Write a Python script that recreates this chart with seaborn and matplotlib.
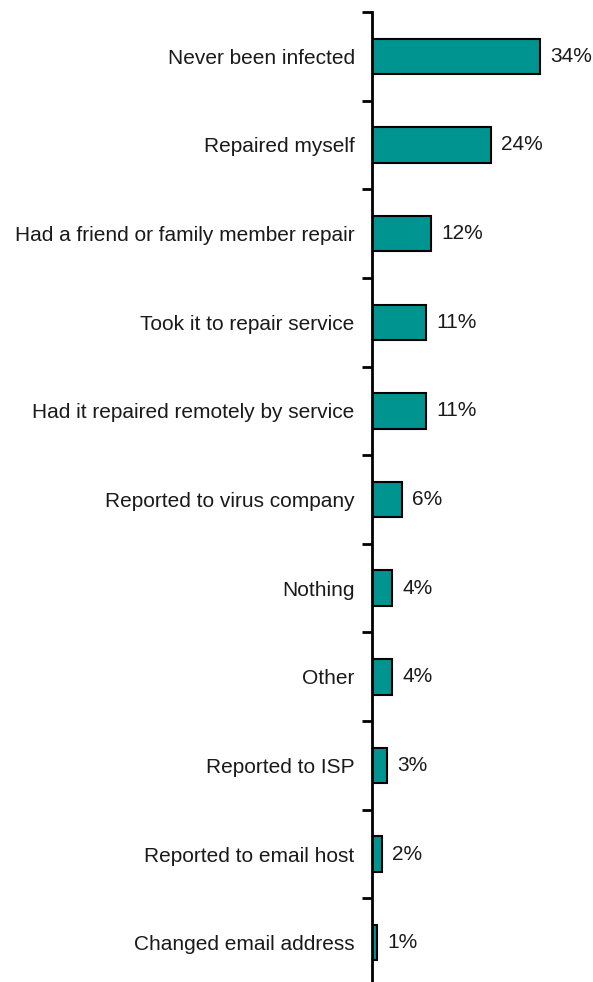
import matplotlib
matplotlib.use("Agg")
import matplotlib.pyplot as plt
import seaborn as sns
import pandas as pd
import numpy as np

categories = [
    "Never been infected",
    "Repaired myself",
    "Had a friend or family member repair",
    "Took it to repair service",
    "Had it repaired remotely by service",
    "Reported to virus company",
    "Nothing",
    "Other",
    "Reported to ISP",
    "Reported to email host",
    "Changed email address",
]
values = [34, 24, 12, 11, 11, 6, 4, 4, 3, 2, 1]

df = pd.DataFrame({"category": categories, "value": values})

sns.set_theme(style="white")
plt.rcParams["font.family"] = ["Liberation Sans", "DejaVu Sans"]

W, H = 593, 982
fig = plt.figure(figsize=(W / 100, H / 100), dpi=100)
# axes spans from the vertical axis line to the right edge
ax_left, ax_top, ax_bottom = 372, 12, 987
ax = fig.add_axes([ax_left / W, (H - ax_bottom) / H, (W - ax_left) / W, (ax_bottom - ax_top) / H])

sns.barplot(data=df, x="value", y="category", orient="h", color="#009490",
            saturation=1, width=0.4, edgecolor="black", linewidth=1.5, ax=ax)

ax.set_xlim(0, (W - ax_left) / 4.95)
ax.set_ylim(len(categories) - 0.5, -0.5)

for i, v in enumerate(values):
    ax.text(v + 2.1, i, f"{v}%", va="center", ha="left", fontsize=15, color="#1a1a1a")

for s in ["top", "right", "bottom"]:
    ax.spines[s].set_visible(False)
ax.spines["left"].set_linewidth(2)
ax.spines["left"].set_color("black")

ax.set_xticks([])
ax.set_xlabel("")
ax.set_ylabel("")
ax.set_yticks(range(len(categories)))
ax.set_yticklabels(categories, fontsize=15, color="#1a1a1a")
ax.tick_params(axis="y", which="major", left=True, length=0, pad=12.5)
ax.set_yticks(np.arange(-0.5, len(categories), 1.0), minor=True)
ax.tick_params(axis="y", which="minor", left=True, length=7, width=2,
               direction="out", color="black")

fig.savefig("out.png", dpi=100)
